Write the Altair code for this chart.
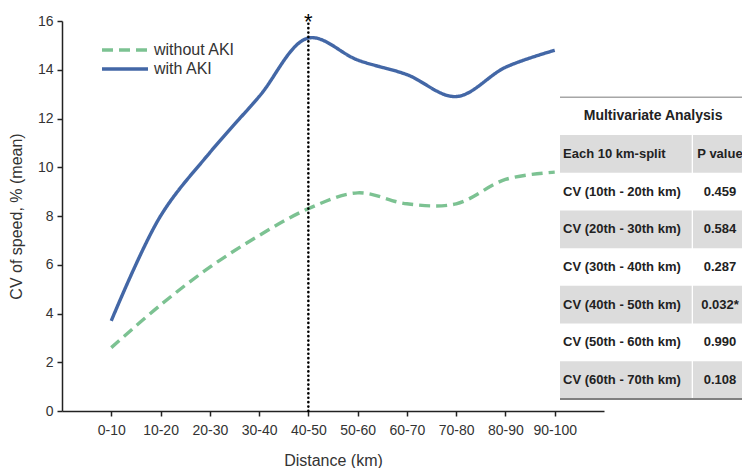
import altair as alt
import pandas as pd

# ---------------- data ----------------
distance = ["0-10", "10-20", "20-30", "30-40", "40-50",
            "50-60", "60-70", "70-80", "80-90", "90-100"]
with_aki = [3.7, 8.0, 10.6, 12.9, 15.3, 14.4, 13.8, 12.9, 14.1, 14.8]
without_aki = [2.6, 4.35, 5.9, 7.2, 8.3, 8.95, 8.5, 8.5, 9.5, 9.8]
series_names = ["without AKI", "with AKI"]
series_colors = ["#7cc292", "#4367a6"]
series_dashes = [[11, 6], [1, 0]]

sig_distance = "40-50"
sig_top = 16.0
star_y = 15.67
y_ticks = [0, 2, 4, 6, 8, 10, 12, 14, 16]

table_title = "Multivariate Analysis"
table_header = ["Each 10 km-split", "P value"]
table_labels = ["CV (10th - 20th km)", "CV (20th - 30th km)", "CV (30th - 40th km)",
                "CV (40th - 50th km)", "CV (50th - 60th km)", "CV (60th - 70th km)"]
table_pvalues = ["0.459", "0.584", "0.287", "0.032*", "0.990", "0.108"]

FONT = "Liberation Sans"
TEXT = "#333333"

color_scale = alt.Scale(domain=series_names, range=series_colors)
dash_scale = alt.Scale(domain=series_names, range=series_dashes)

# ---------------- line chart ----------------
rows = []
for i, d in enumerate(distance):
    rows.append({"distance": d, "value": without_aki[i], "series": series_names[0]})
    rows.append({"distance": d, "value": with_aki[i], "series": series_names[1]})
lines_df = pd.DataFrame(rows)

x_scale = alt.Scale(type="point", domain=distance, padding=1.03)
y_scale = alt.Scale(domain=[0, 16], nice=False, zero=True)

lines = alt.Chart(lines_df).mark_line(interpolate="catmull-rom", strokeWidth=3.4).encode(
    x=alt.X("distance:O", sort=distance, scale=x_scale,
            axis=alt.Axis(title="Distance (km)", labelAngle=0, labelPadding=7,
                          titlePadding=15)),
    y=alt.Y("value:Q", scale=y_scale,
            axis=alt.Axis(title="CV of speed, % (mean)", values=y_ticks, grid=False,
                          labelPadding=4, titlePadding=13)),
    color=alt.Color("series:N", scale=color_scale, legend=None),
    strokeDash=alt.StrokeDash("series:N", scale=dash_scale, legend=None),
    detail="series:N",
)

sig_df = pd.DataFrame({"distance": [sig_distance], "y0": [0.0], "y1": [sig_top],
                       "ys": [star_y], "mark": ["*"]})
sig_rule = alt.Chart(sig_df).mark_rule(color="black", strokeWidth=2.6, strokeCap="round",
                                       strokeDash=[0.1, 4.3]).encode(
    x=alt.X("distance:O", sort=distance, scale=x_scale),
    y=alt.Y("y0:Q", scale=y_scale),
    y2="y1:Q",
)
sig_star = alt.Chart(sig_df).mark_text(fontSize=22, font=FONT, color="black",
                                       baseline="alphabetic", align="center").encode(
    x=alt.X("distance:O", sort=distance, scale=x_scale),
    y=alt.Y("ys:Q", scale=y_scale),
    text="mark:N",
)

main = alt.layer(lines, sig_rule, sig_star)

# ---------------- legend (drawn from the series list) ----------------
leg_df = pd.DataFrame({"series": series_names})
leg_y = alt.Scale(type="point", domain=series_names, range=[29, 48], padding=0)
leg_lines = alt.Chart(leg_df).mark_rule(strokeWidth=3.6).encode(
    x=alt.value(40), x2=alt.value(86),
    y=alt.Y("series:N", scale=leg_y, axis=None),
    color=alt.Color("series:N", scale=color_scale, legend=None),
    strokeDash=alt.StrokeDash("series:N", scale=dash_scale, legend=None),
)
leg_text = alt.Chart(leg_df).mark_text(fontSize=16, font=FONT, color=TEXT, align="left",
                                       baseline="middle").encode(
    x=alt.value(92),
    y=alt.Y("series:N", scale=leg_y, axis=None),
    text="series:N",
)
legend = alt.layer(leg_lines, leg_text)

# ---------------- table ----------------
tx = alt.Scale(domain=[0, 1], range=[498, 688], nice=False, zero=False)
ty = alt.Scale(domain=[-1, 7], range=[76.3, 378], nice=False, zero=False)

cells = []
all_labels = [table_header[0]] + table_labels
all_values = [table_header[1]] + table_pvalues
for i in range(len(all_labels)):
    if i % 2 == 0:
        cells.append({"x0": 0.0, "x1": 0.693, "r0": i, "r1": i + 1})
        cells.append({"x0": 0.700, "x1": 1.0, "r0": i, "r1": i + 1})
cells_df = pd.DataFrame(cells)
table_bg = alt.Chart(cells_df).mark_rect(color="#dcdcdc").encode(
    x=alt.X("x0:Q", scale=tx, axis=None), x2="x1:Q",
    y=alt.Y("r0:Q", scale=ty, axis=None), y2="r1:Q",
)

lines_tab_df = pd.DataFrame({"x0": [0.0, 0.0], "x1": [1.0, 1.0], "r": [-1, 7],
                             "c": ["#a6a6a6", "#808080"], "w": [1.5, 2.2]})
table_lines = alt.Chart(lines_tab_df).mark_rule().encode(
    x=alt.X("x0:Q", scale=tx, axis=None), x2="x1:Q",
    y=alt.Y("r:Q", scale=ty, axis=None),
    color=alt.Color("c:N", scale=None),
    strokeWidth=alt.StrokeWidth("w:Q", scale=None),
)

title_df = pd.DataFrame({"x": [0.49], "r": [-0.5], "t": [table_title]})
table_title_t = alt.Chart(title_df).mark_text(fontSize=14, fontWeight="bold", font=FONT,
                                              color="#222222", align="center",
                                              baseline="middle").encode(
    x=alt.X("x:Q", scale=tx, axis=None),
    y=alt.Y("r:Q", scale=ty, axis=None),
    text="t:N",
)

lab_df = pd.DataFrame({"x": [0.016] * len(all_labels),
                       "r": [i + 0.5 for i in range(len(all_labels))],
                       "t": all_labels})
table_lab = alt.Chart(lab_df).mark_text(fontSize=13, fontWeight="bold", font=FONT,
                                        color="#222222", align="left",
                                        baseline="middle").encode(
    x=alt.X("x:Q", scale=tx, axis=None),
    y=alt.Y("r:Q", scale=ty, axis=None),
    text="t:N",
)
val_df = pd.DataFrame({"x": [0.842] * len(all_values),
                       "r": [i + 0.5 for i in range(len(all_values))],
                       "t": all_values})
table_val = alt.Chart(val_df).mark_text(fontSize=13, fontWeight="bold", font=FONT,
                                        color="#222222", align="center",
                                        baseline="middle").encode(
    x=alt.X("x:Q", scale=tx, axis=None),
    y=alt.Y("r:Q", scale=ty, axis=None),
    text="t:N",
)

table = alt.layer(table_bg, table_lines, table_title_t, table_lab, table_val)

chart = alt.layer(main, legend, table).resolve_scale(
    x="independent", y="independent", strokeWidth="independent"
).properties(
    width=542, height=390,
    autosize=alt.AutoSizeParams(type="none"),
    padding={"left": 54, "top": 13, "right": 138, "bottom": 57},
).configure_view(stroke=None).configure_axis(
    domainColor="#222222", domainWidth=1.5, tickColor="#222222", tickWidth=1.5,
    tickSize=5, labelFont=FONT, labelFontSize=14, labelColor=TEXT,
    titleFont=FONT, titleFontSize=16, titleFontWeight="normal", titleColor=TEXT,
)

chart.save("out.html", embed_options={"renderer": "svg", "actions": False})
